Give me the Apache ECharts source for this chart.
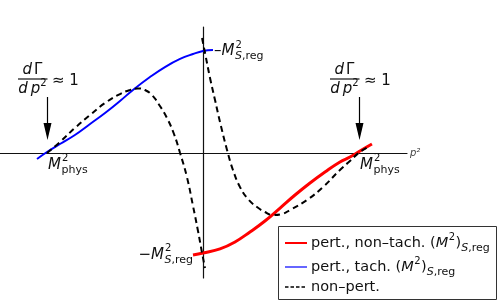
<!DOCTYPE html>
<html><head><meta charset="utf-8">
<script src="https://cdn.jsdelivr.net/npm/echarts@6/dist/echarts.min.js"></script>
<style>html,body{margin:0;padding:0;background:#fff}#c{width:498px;height:306px}</style>
</head><body><div id="c"></div>
<script>
// ---- data (x in units of M_phys^2, y in units of M_S,reg^2) ----
const seriesNames = ['pert., non–tach.', 'pert., tach.', 'non–pert.'];
const redCurve = [[-0.064,-1.010],[0,-0.990],[0.109,-0.950],[0.205,-0.881],[0.301,-0.782],[0.397,-0.673],[0.494,-0.545],[0.590,-0.416],[0.686,-0.297],[0.782,-0.188],[0.878,-0.089],[0.942,-0.040],[1.006,0.020],[1.083,0.089]];
const blueCurve = [[-1.064,-0.059],[-1.000,0.010],[-0.917,0.089],[-0.821,0.178],[-0.724,0.287],[-0.628,0.396],[-0.532,0.515],[-0.449,0.624],[-0.340,0.752],[-0.244,0.851],[-0.147,0.931],[-0.064,0.980],[0,1.010],[0.064,1.020]];
const dashLeft = [[-1.000,0.0],[-0.917,0.109],[-0.821,0.248],[-0.724,0.376],[-0.628,0.495],[-0.532,0.584],[-0.468,0.624],[-0.417,0.639],[-0.372,0.624],[-0.327,0.574],[-0.276,0.465],[-0.231,0.347],[-0.186,0.188],[-0.147,0.0],[-0.103,-0.238],[-0.064,-0.525],[-0.032,-0.772],[-0.006,-0.990],[0.013,-1.139]];
const dashRight = [[-0.006,1.139],[0.013,0.990],[0.045,0.743],[0.077,0.525],[0.109,0.307],[0.154,0.030],[0.192,-0.168],[0.237,-0.337],[0.288,-0.455],[0.346,-0.535],[0.397,-0.584],[0.449,-0.614],[0.506,-0.604],[0.558,-0.564],[0.667,-0.465],[0.769,-0.337],[0.878,-0.168],[0.942,-0.079],[1.006,0.010],[1.071,0.069]];
const physPoints = [[-1,0],[1,0]];
const regPoints = [[0,1.01],[0,-0.99]];

const FONT = '"DejaVu Sans"';
const INK = '#111';
const chart = echarts.init(document.getElementById('c'), null, {renderer:'canvas'});

const option = {
  animation:false,
  backgroundColor:'#fff',
  grid:{left:0,right:91,top:27,bottom:28},
  xAxis:{type:'value',min:-1.3013,max:1.3077,
    axisLine:{onZero:true,lineStyle:{color:INK,width:1.2}},
    axisTick:{show:false},axisLabel:{show:false},splitLine:{show:false},
    name:'p²',nameLocation:'end',nameGap:3,
    nameTextStyle:{fontFamily:'DejaVu Sans',fontSize:10,fontStyle:'italic',color:'#444',padding:[0,0,6,0]}},
  yAxis:{type:'value',min:-1.2376,max:1.2475,
    axisLine:{onZero:true,lineStyle:{color:INK,width:1.2}},
    axisTick:{show:false},axisLabel:{show:false},splitLine:{show:false}},
  legend:{show:false},
  series:[
    {name:seriesNames[2],type:'line',data:dashLeft,smooth:0.45,symbol:'none',z:3,
      lineStyle:{color:'#000',width:2,type:[6,4]}},
    {name:seriesNames[2],type:'line',data:dashRight,smooth:0.45,symbol:'none',z:3,
      lineStyle:{color:'#000',width:2,type:[6,4]}},
    {name:seriesNames[1],type:'line',data:blueCurve,smooth:0.45,symbol:'none',z:2,
      lineStyle:{color:'#0000ff',width:2}},
    {name:seriesNames[0],type:'line',data:redCurve,smooth:0.45,symbol:'none',z:2,
      lineStyle:{color:'#ff0000',width:3}}
  ]
};
chart.setOption(option);

// ---- helpers ----
const mctx = document.createElement('canvas').getContext('2d');
function tw(text, font){ mctx.font = font; return mctx.measureText(text).width; }
const fM = 'italic 15px '+FONT, fU = '15px '+FONT, fSup = '10px '+FONT, fSubI = 'italic 11px '+FONT, fSub = '11px '+FONT;
const g = [];
function piece(x,y,text,font,align){
  g.push({type:'text',x:x,y:y,z:10,silent:true,style:{text:text,font:font,fill:INK,align:align||'left',verticalAlign:'middle'}});
}
function mathLabel(x, y0, prefix, subI, subU){
  let cx = x;
  if (prefix){ piece(cx,y0,prefix,fU); cx += tw(prefix,fU); }
  piece(cx,y0,'M',fM); cx += tw('M',fM) + 0.5;
  piece(cx+0.5,y0-6.5,'2',fSup);
  let sx = cx;
  if (subI){ piece(sx,y0+5,subI,fSubI); sx += tw(subI,fSubI); }
  if (subU){ piece(sx,y0+5,subU,fSub); sx += tw(subU,fSub); }
  return sx - x;
}
function mathWidth(prefix, subI, subU){
  return (prefix?tw(prefix,fU):0) + tw('M',fM) + 0.5 + (subI?tw(subI,fSubI):0) + (subU?tw(subU,fSub):0);
}

// ---- d Gamma / d p^2 ≈ 1 annotations with arrows at M_phys ----
physPoints.forEach(p=>{
  const [px,py] = chart.convertToPixel({gridIndex:0},p);
  const ax = Math.round(px)+0.5;
  g.push({type:'line',z:10,shape:{x1:ax,y1:py-56,x2:ax,y2:py-24},style:{stroke:'#000',lineWidth:1.2}});
  g.push({type:'polygon',z:10,shape:{points:[[ax-4,py-30],[ax+4,py-30],[ax,py-13]]},style:{fill:'#000'}});
  g.push({type:'line',z:10,shape:{x1:px-29,y1:py-74,x2:px+0.5,y2:py-74},style:{stroke:INK,lineWidth:1.2}});
  const cx = px-14.5;
  const wN = tw('d',fM)+2+tw('Γ',fU);
  piece(cx-wN/2,py-83,'d',fM); piece(cx-wN/2+tw('d',fM)+2,py-83,'Γ',fU);
  const wD = tw('d',fM)+3+tw('p',fM)+tw('2',fSup);
  let dx = cx-wD/2;
  piece(dx,py-64,'d',fM); dx += tw('d',fM)+3;
  piece(dx,py-64,'p',fM); dx += tw('p',fM);
  piece(dx,py-70,'2',fSup);
  piece(px+5,py-72,'≈ 1',fU);
  mathLabel(px+1,py+12,'',null,'phys');
});
{
  const [px,py] = chart.convertToPixel({gridIndex:0},regPoints[0]);
  mathLabel(px+11,py+0.5,'–','S',',reg');
}
{
  const [px,py] = chart.convertToPixel({gridIndex:0},regPoints[1]);
  const w = mathWidth('−','S',',reg');
  mathLabel(px-10-w,py+2,'−','S',',reg');
}

// ---- legend box ----
const LX = 278, LY = 226, LW = 218, LH = 73;
g.push({type:'rect',z:9,shape:{x:LX+0.5,y:LY+0.5,width:LW,height:LH},style:{fill:'#fff',stroke:'#333',lineWidth:1}});
const legendRows = [
  {name:seriesNames[0], dy:17, color:'#ff0000', width:2, dash:null, math:true},
  {name:seriesNames[1], dy:41, color:'#6666ff', width:2, dash:null, math:true},
  {name:seriesNames[2], dy:61, color:'#000', width:1.3, dash:[3.5,2], math:false}
];
const fL = '14.5px '+FONT, fLI = 'italic 14.5px '+FONT, fLs = '10px '+FONT, fLsi = 'italic 11px '+FONT, fLsu = '11px '+FONT;
legendRows.forEach(r=>{
  const y = LY + r.dy;
  g.push({type:'line',z:10,shape:{x1:LX+7,y1:y,x2:LX+29,y2:y},style:{stroke:r.color,lineWidth:r.width,lineDash:r.dash}});
  let x = LX+33;
  const t = r.name + (r.math ? ' (' : '');
  piece(x,y,t,fL); x += tw(t,fL);
  if (r.math){
    piece(x,y,'M',fLI); x += tw('M',fLI)+0.5;
    piece(x,y-5.5,'2',fLs); x += tw('2',fLs)+0.5;
    piece(x,y,')',fL); x += tw(')',fL);
    piece(x,y+5.5,'S',fLsi); x += tw('S',fLsi);
    piece(x,y+5.5,',reg',fLsu);
  }
});
chart.setOption({graphic:g});
</script>
</body></html>
